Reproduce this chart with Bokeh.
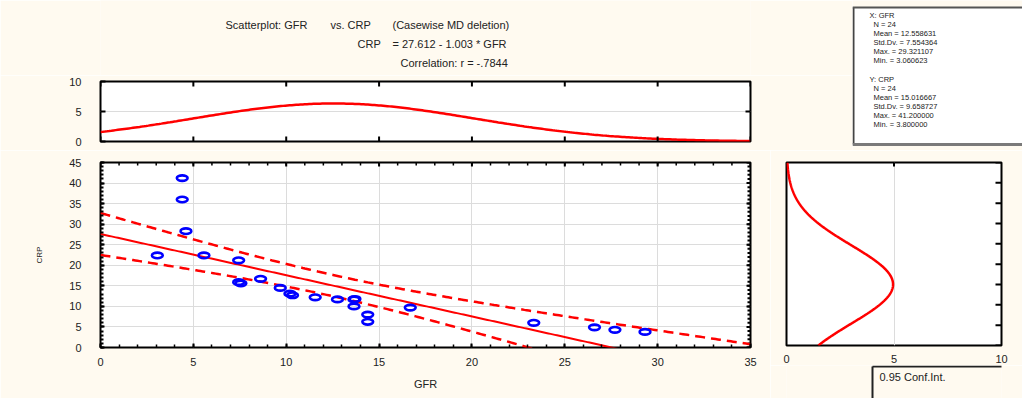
import numpy as np
from bokeh.plotting import figure
from bokeh.models import Range1d, SingleIntervalTicker, FixedTicker
from bokeh.layouts import row, column
from bokeh.embed import file_html
from bokeh.resources import INLINE
from bokeh.core.properties import value

# ---------------- data ----------------
gfr = [4.40, 4.40, 4.60, 3.06, 5.57, 7.44, 7.44, 7.56, 8.62, 9.68, 10.20, 10.34,
       11.56, 12.76, 13.65, 13.65, 13.70, 14.39, 14.39, 16.68, 23.33, 26.60, 27.70, 29.32]
crp = [41.2, 36.0, 28.3, 22.4, 22.4, 21.2, 15.9, 15.6, 16.7, 14.5, 13.1, 12.7,
       12.2, 11.7, 11.7, 10.0, 11.8, 8.0, 6.25, 9.7, 6.0, 4.9, 4.3, 3.8]

n_obs = 24
gfr_mean, gfr_sd, gfr_max, gfr_min = 12.558631, 7.554364, 29.321107, 3.060623
crp_mean, crp_sd, crp_max, crp_min = 15.016667, 9.658727, 41.200000, 3.800000
intercept, slope, corr_r = 27.612, -1.003, -0.7844
t_crit = 2.0739          # t(0.975, n-2)
bin_width = 5

main_x_ticks = [0, 5, 10, 15, 20, 25, 30, 35]
main_y_ticks = [0, 5, 10, 15, 20, 25, 30, 35, 40, 45]
main_x_minor = list(range(0, 36))
main_y_minor = list(range(0, 46))
top_y_ticks = [0, 5, 10]
right_x_ticks = [0, 5, 10]

title_texts = ["Scatterplot: GFR", "vs. CRP", "(Casewise MD deletion)",
               "CRP", "= 27.612 - 1.003  * GFR", "Correlation: r = -.7844"]
stats_lines = ["X: GFR", "N = 24", "Mean = 12.558631", "Std.Dv. = 7.554364",
               "Max. = 29.321107", "Min. = 3.060623",
               "Y: CRP", "N = 24", "Mean = 15.016667", "Std.Dv. = 9.658727",
               "Max. = 41.200000", "Min. = 3.800000"]
legend_text = "0.95 Conf.Int."

# ---------------- styles ----------------
BG = "#fffaf0"
FONT = "Liberation Sans"
RED = "#ff0000"
BLUE = "#0000ff"
GRID = "#dcdcdc"
TXT = "#222222"


def style_axis(ax, standoff=10, tick_in=5, minor_in=0, minor_w=1.5):
    ax.axis_line_color = None
    ax.major_tick_out = 0
    ax.major_tick_in = tick_in
    ax.major_tick_line_width = 2
    ax.major_tick_line_color = "black" if tick_in else None
    ax.minor_tick_out = 0
    ax.minor_tick_in = minor_in
    ax.minor_tick_line_width = minor_w
    ax.minor_tick_line_color = "black" if minor_in else None
    ax.major_label_text_font = FONT
    ax.major_label_text_font_size = "11px"
    ax.major_label_text_color = TXT
    ax.major_label_standoff = standoff


def edge_ticks(p, xs, ys, size, vertical, width=2):
    # tick marks on the frame edge; the half outside the frame is clipped away
    p.scatter(x=xs, y=ys, marker="dash", size=size, angle=(np.pi / 2 if vertical else 0),
              line_color="black", line_width=width)


def plain_fig(w, h, xr, yr, **kw):
    opts = dict(min_border=0)
    opts.update(kw)
    return figure(width=w, height=h, x_range=Range1d(*xr), y_range=Range1d(*yr),
                  output_backend="svg", toolbar_location=None,
                  x_axis_type=None, y_axis_type=None,
                  background_fill_color=BG, border_fill_color=BG,
                  outline_line_color=None, **opts)

# ---------------- title (frame aligned with the plot below: pixel units) ----------------
title_fig = plain_fig(852, 75, (100, 750), (75, 0), min_border_left=100, min_border_right=102)
title_pos = [(225, 24), (330, 24), (392, 24), (357, 43), (392, 43), (400, 62)]
for (tx, ty), tt in zip(title_pos, title_texts):
    title_fig.text(x=[tx], y=[ty], text=[tt], text_font=value(FONT), text_font_size="11px",
                   text_color=TXT, text_baseline="middle", text_align="left")

# ---------------- stats box ----------------
stats_fig = plain_fig(170, 150, (0, 170), (150, 0))
stats_fig.quad(left=[0], right=[175], top=[7], bottom=[144], fill_color="white",
               line_color=None)
stats_fig.segment(x0=[1], y0=[7], x1=[1], y1=[144], line_color="#444444", line_width=2)
stats_fig.segment(x0=[0], y0=[7], x1=[175], y1=[7], line_color="#555555", line_width=2)
stats_fig.segment(x0=[0], y0=[144], x1=[175], y1=[144], line_color="#7a7a7a", line_width=3)
sx = [17, 21, 21, 21, 21, 21, 17, 21, 21, 21, 21, 21]
sy = [15, 24, 33, 42, 51, 60, 79, 88, 97, 106, 115, 124]
stats_fig.text(x=sx, y=sy, text=stats_lines, text_font=value(FONT),
               text_font_size="7.5px", text_color=TXT, text_baseline="middle")

# ---------------- top (GFR distribution) ----------------
top_fig = figure(width=852, height=75, x_range=Range1d(0, 35), y_range=Range1d(0, 10),
                 output_backend="svg", toolbar_location=None, x_axis_type=None,
                 min_border_left=100, min_border_right=102, min_border_top=6,
                 min_border_bottom=9, background_fill_color="white",
                 border_fill_color=BG, outline_line_color="black", outline_line_width=2)
xs = np.linspace(0, 35, 300)
top_curve = n_obs * bin_width * np.exp(-0.5 * ((xs - gfr_mean) / gfr_sd) ** 2) / (gfr_sd * np.sqrt(2 * np.pi))
top_fig.line(xs, top_curve, line_color=RED, line_width=2.5)
top_fig.yaxis[0].ticker = FixedTicker(ticks=top_y_ticks)
style_axis(top_fig.yaxis[0], standoff=19)
top_fig.ygrid.ticker = FixedTicker(ticks=[5])
top_fig.ygrid.grid_line_color = GRID
edge_ticks(top_fig, main_x_ticks, [0] * len(main_x_ticks), 10, True)
edge_ticks(top_fig, main_x_ticks, [10] * len(main_x_ticks), 10, True)
edge_ticks(top_fig, [35], [5], 10, False)

# ---------------- main scatter ----------------
main_fig = figure(width=770, height=248, x_range=Range1d(0, 35), y_range=Range1d(0, 45),
                  output_backend="svg", toolbar_location=None,
                  min_border_left=100, min_border_right=20, min_border_top=12,
                  min_border_bottom=51, background_fill_color="white",
                  border_fill_color=BG, outline_line_color="black", outline_line_width=2)
main_fig.xaxis[0].ticker = SingleIntervalTicker(interval=5, num_minor_ticks=5)
main_fig.yaxis[0].ticker = SingleIntervalTicker(interval=5, num_minor_ticks=5)
style_axis(main_fig.xaxis[0], standoff=10, tick_in=4, minor_in=3)
style_axis(main_fig.yaxis[0], standoff=19, tick_in=4, minor_in=3, minor_w=2)
main_fig.xaxis[0].axis_label = "GFR"
main_fig.yaxis[0].axis_label = "CRP"
for ax, fs, so in ((main_fig.xaxis[0], "11px", 9), (main_fig.yaxis[0], "8px", 22)):
    ax.axis_label_text_font = FONT
    ax.axis_label_text_font_size = fs
    ax.axis_label_text_font_style = "normal"
    ax.axis_label_text_color = TXT
    ax.axis_label_standoff = so
main_fig.grid.grid_line_color = GRID
main_fig.xgrid.ticker = FixedTicker(ticks=main_x_ticks)
main_fig.ygrid.ticker = FixedTicker(ticks=main_y_ticks)
edge_ticks(main_fig, main_x_minor, [45] * len(main_x_minor), 6, True, 1.5)
edge_ticks(main_fig, main_x_ticks, [45] * len(main_x_ticks), 8, True, 2)
edge_ticks(main_fig, [35] * len(main_y_minor), main_y_minor, 6, False, 2)
edge_ticks(main_fig, [35] * len(main_y_ticks), main_y_ticks, 8, False, 2)

sxx = (n_obs - 1) * gfr_sd ** 2
s_res = crp_sd * np.sqrt(1 - corr_r ** 2) * np.sqrt((n_obs - 1) / (n_obs - 2))
fit = intercept + slope * xs
half = t_crit * s_res * np.sqrt(1.0 / n_obs + (xs - gfr_mean) ** 2 / sxx)
main_fig.line(xs, fit, line_color=RED, line_width=2)
main_fig.line(xs, fit + half, line_color=RED, line_width=2.5, line_dash="10 6")
main_fig.line(xs, fit - half, line_color=RED, line_width=2.5, line_dash="10 6")
main_fig.ellipse(x=gfr, y=crp, width=0.58, height=1.35, fill_color=None,
                 line_color=BLUE, line_width=2.6)

# ---------------- right (CRP distribution) ----------------
right_fig = figure(width=252, height=215, x_range=Range1d(0, 10), y_range=Range1d(0, 45),
                   output_backend="svg", toolbar_location=None, y_axis_type=None,
                   min_border_left=16, min_border_right=21, min_border_top=12,
                   min_border_bottom=18, background_fill_color="white",
                   border_fill_color=BG, outline_line_color="black", outline_line_width=2)
ys = np.linspace(0, 45, 300)
right_curve = n_obs * bin_width * np.exp(-0.5 * ((ys - crp_mean) / crp_sd) ** 2) / (crp_sd * np.sqrt(2 * np.pi))
right_fig.line(right_curve, ys, line_color=RED, line_width=2.5)
right_fig.xaxis[0].ticker = FixedTicker(ticks=right_x_ticks)
style_axis(right_fig.xaxis[0], standoff=9, tick_in=0)
right_fig.xgrid.ticker = FixedTicker(ticks=[5])
right_fig.xgrid.grid_line_color = GRID
edge_ticks(right_fig, [10] * len(main_y_ticks), main_y_ticks, 12, False)
edge_ticks(right_fig, [5], [45], 8, True)

# ---------------- legend box (frame aligned with the plot above: pixel units) ----------------
legend_fig = plain_fig(252, 33, (16, 231), (33, 0), min_border_left=16, min_border_right=21)
legend_fig.segment(x0=[102], y0=[1], x1=[260], y1=[1], line_color="#222222", line_width=2)
legend_fig.segment(x0=[102], y0=[1], x1=[102], y1=[34], line_color="#222222", line_width=2)
legend_fig.text(x=[109], y=[11], text=[legend_text], text_font=value(FONT),
                text_font_size="11px", text_color=TXT, text_baseline="middle")

layout = column(row(column(title_fig, top_fig), stats_fig),
                row(main_fig, column(right_fig, legend_fig)))

open("out.html", "w").write(file_html(layout, INLINE))
